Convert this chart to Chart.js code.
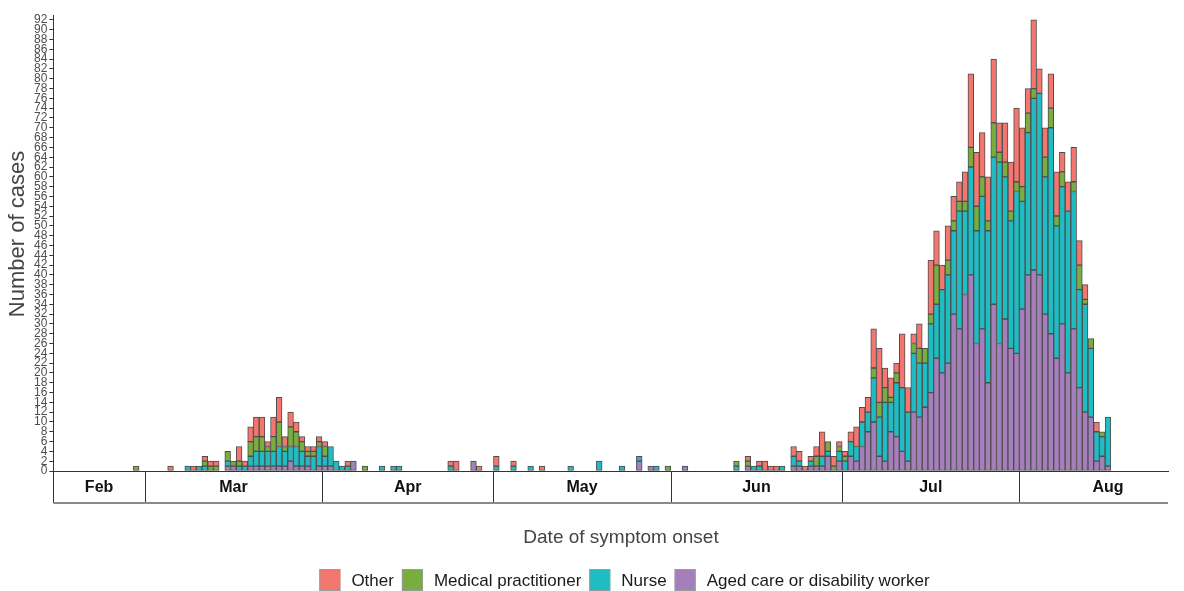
<!DOCTYPE html>
<html>
<head>
<meta charset="utf-8">
<script src="https://cdn.jsdelivr.net/npm/chart.js@4.4.1/dist/chart.umd.min.js"></script>
<style>
  html, body { margin: 0; padding: 0; background: #ffffff; }
  #wrap { width: 1184px; height: 591px; position: relative; }
</style>
</head>
<body>
<div id="wrap"><canvas id="c"></canvas></div>
<script>
// ---- categories: daily symptom-onset dates, 14 Feb to 26 Aug ----
const monthNames = ['Feb', 'Mar', 'Apr', 'May', 'Jun', 'Jul', 'Aug'];
const monthDays = [16, 31, 30, 31, 30, 31, 26];
const monthFirstDay = [14, 1, 1, 1, 1, 1, 1];
const monthLabelSpan = [16, 31, 30, 31, 30, 31, 31];

// ---- series values (one value per day, in order Feb..Aug) ----
const other = [
  0,0,0,0,0,0,0,0,0,0,0,0,0,0,0,0,
  0,0,0,0,1,0,0,0,1,0,1,1,1,0,0,0,3,1,3,4,4,1,4,5,2,3,2,1,1,1,1,
  1,0,0,0,1,0,0,0,0,0,0,0,0,0,0,0,0,0,0,0,0,0,1,2,0,0,0,1,0,0,
  2,0,0,1,0,0,0,0,1,0,0,0,0,0,0,0,0,0,0,0,0,0,0,0,0,0,0,0,0,0,0,
  0,0,0,0,0,0,0,0,0,0,0,0,0,1,0,1,2,1,1,0,0,2,2,1,1,2,5,0,2,1,
  1,2,4,3,3,8,11,4,4,2,11,5,2,5,0,11,7,5,7,5,4,6,15,11,9,9,13,6,8,10,15,
  12,5,14,5,6,7,9,4,6,7,5,3,0,2,0,0,0,0,0,0,0,0,0,0,0,0
];
const medical = [
  0,0,0,0,0,0,0,0,0,0,0,0,0,0,1,0,
  0,0,0,0,0,0,0,0,0,0,1,1,1,0,2,1,1,0,3,3,3,1,3,5,1,4,3,2,1,1,1,
  2,0,0,0,0,0,0,1,0,0,0,0,0,0,0,0,0,0,0,0,0,0,0,0,0,0,0,0,0,0,
  0,0,0,0,0,0,0,0,0,0,0,0,0,0,0,0,0,0,0,0,0,0,0,0,0,0,0,0,0,0,1,
  0,0,0,0,0,0,0,0,0,0,0,1,0,1,0,0,0,0,0,0,0,0,0,0,0,2,0,2,1,1,
  1,0,0,0,0,2,3,3,1,2,0,0,2,3,3,2,8,0,3,2,2,2,4,5,4,2,7,2,3,2,2,
  3,4,2,0,4,4,2,3,0,2,5,1,2,0,1,0,0,0,0,0,0,0,0,0,0,0
];
const nurse = [
  0,0,0,0,0,0,0,0,0,0,0,0,0,0,0,0,
  0,0,0,0,0,0,0,1,0,1,1,0,0,0,1,0,1,1,2,3,3,3,3,4,3,3,4,3,2,3,4,
  2,4,2,1,1,0,0,0,0,0,1,0,1,1,0,0,0,0,0,0,0,0,1,0,0,0,0,0,0,0,
  1,0,0,1,0,0,1,0,0,0,0,0,0,1,0,0,0,0,2,0,0,0,1,0,0,1,0,0,1,0,0,
  0,0,0,0,0,0,0,0,0,0,0,1,0,0,1,1,0,0,0,1,0,2,1,0,1,0,2,1,0,2,
  2,3,3,5,4,9,8,12,6,11,13,10,12,11,9,14,11,17,18,17,24,17,22,23,27,31,30,37,29,26,33,
  22,29,35,37,28,42,27,28,33,28,20,22,14,6,4,10,0,0,0,0,0,0,0,0,0,0
];
const aged = [
  0,0,0,0,0,0,0,0,0,0,0,0,0,0,0,0,
  0,0,0,0,0,0,0,0,0,0,0,0,0,0,1,1,0,0,1,1,1,1,1,1,1,2,1,1,1,0,1,
  1,1,0,0,0,2,0,0,0,0,0,0,0,0,0,0,0,0,0,0,0,0,0,0,0,0,2,0,0,0,
  0,0,0,0,0,0,0,0,0,0,0,0,0,0,0,0,0,0,0,0,0,0,0,0,0,2,0,1,0,0,0,
  0,0,1,0,0,0,0,0,0,0,0,0,0,1,0,0,0,0,0,0,0,1,1,0,1,1,1,3,0,2,
  0,3,2,5,8,10,3,2,8,7,4,2,12,11,13,16,23,20,22,32,29,36,40,26,29,18,34,26,31,25,24,
  33,40,41,40,32,28,23,30,20,29,17,12,11,2,3,1,0,0,0,0,0,0,0,0,0,0
];

// ---- y tick labels ----
const yTickMax = 92;
const yTickStep = 2;

// ---- texts ----
const xTitle = 'Date of symptom onset';
const yTitle = 'Number of cases';

// build day labels from the month table
const labels = [];
monthNames.forEach((m, k) => {
  for (let d = 0; d < monthDays[k]; d++) labels.push((monthFirstDay[k] + d) + ' ' + m);
});

const FONT = '"Liberation Sans", Arial, Helvetica, sans-serif';
const toBars = arr => arr.map(v => (v === 0 ? null : v));

const decorations = {
  id: 'decorations',
  afterDraw(chart) {
    const { ctx, chartArea: { left, right, bottom }, scales: { x } } = chart;
    const dayW = x.getPixelForValue(1) - x.getPixelForValue(0);
    const half = dayW / 2;
    const boxH = 32;
    const edges = [left];
    let n = 0;
    monthDays.forEach(d => {
      n += d;
      edges.push(n < labels.length ? x.getPixelForValue(n) - half : right);
    });
    ctx.save();
    // month strip
    ctx.strokeStyle = '#333333';
    ctx.lineWidth = 1;
    ctx.beginPath();
    for (let k = 0; k < edges.length - 1; k++) {
      const ex = Math.round(edges[k]) + 0.5;
      ctx.moveTo(ex, bottom);
      ctx.lineTo(ex, bottom + boxH);
    }
    ctx.stroke();
    ctx.strokeStyle = '#8a8a8a';
    ctx.lineWidth = 2;
    ctx.beginPath();
    ctx.moveTo(left, bottom + boxH);
    ctx.lineTo(right, bottom + boxH);
    ctx.stroke();
    ctx.fillStyle = '#111111';
    ctx.font = 'bold 16px ' + FONT;
    ctx.textAlign = 'center';
    ctx.textBaseline = 'middle';
    monthNames.forEach((nm, k) => {
      ctx.fillText(nm, edges[k] + monthLabelSpan[k] * dayW / 2, bottom + boxH / 2 + 1);
    });

    // x axis title
    ctx.fillStyle = '#444444';
    ctx.font = '19px ' + FONT;
    ctx.fillText(xTitle, 621, 538);

    // y axis title
    ctx.save();
    ctx.translate(18, 234);
    ctx.rotate(-Math.PI / 2);
    ctx.font = '22px ' + FONT;
    ctx.fillText(yTitle, 0, 0);
    ctx.restore();

    // legend
    const items = chart.data.datasets.slice().reverse();
    const bw = 21, bh = 22, gapText = 11, gapItem = 8;
    ctx.font = '17px ' + FONT;
    let total = 0;
    items.forEach((d, k) => {
      total += bw + gapText + ctx.measureText(d.label).width + (k < items.length - 1 ? gapItem : 0);
    });
    let lx = 624.5 - total / 2;
    const ly = 569;
    ctx.textAlign = 'left';
    items.forEach(d => {
      ctx.fillStyle = d.backgroundColor;
      ctx.fillRect(lx, ly, bw, bh);
      ctx.strokeStyle = '#9a9a9a';
      ctx.lineWidth = 1;
      ctx.strokeRect(lx + 0.5, ly + 0.5, bw - 1, bh - 1);
      ctx.fillStyle = '#1a1a1a';
      ctx.fillText(d.label, lx + bw + gapText, ly + bh / 2 + 1);
      lx += bw + gapText + ctx.measureText(d.label).width + gapItem;
    });
    ctx.restore();
  }
};

const border = '#4d4d4d';
new Chart(document.getElementById('c'), {
  type: 'bar',
  data: {
    labels: labels,
    datasets: [
      { label: 'Aged care or disability worker', data: toBars(aged), backgroundColor: '#a57fbc' },
      { label: 'Nurse', data: toBars(nurse), backgroundColor: '#1fbcc3' },
      { label: 'Medical practitioner', data: toBars(medical), backgroundColor: '#79ad3d' },
      { label: 'Other', data: toBars(other), backgroundColor: '#f3766f' }
    ].map(d => Object.assign(d, {
      borderColor: border, borderWidth: 1, borderSkipped: false,
      barPercentage: 1.0, categoryPercentage: 1.0
    }))
  },
  options: {
    responsive: true,
    maintainAspectRatio: false,
    animation: false,
    layout: { padding: { left: 32, right: 16, top: 15, bottom: 120 } },
    plugins: {
      tooltip: { enabled: false },
      legend: { display: false }
    },
    scales: {
      x: {
        stacked: true,
        offset: true,
        ticks: { display: false },
        grid: { display: false, drawTicks: false },
        border: { display: true, color: '#333333', width: 1 },
        title: { display: false }
      },
      y: {
        stacked: true,
        min: 0,
        max: 93,
        afterBuildTicks: (scale) => {
          const t = [];
          for (let v = 0; v <= yTickMax; v += yTickStep) t.push({ value: v });
          scale.ticks = t;
        },
        ticks: {
          autoSkip: false, padding: 2, color: '#4d4d4d',
          font: { family: FONT, size: 12 }
        },
        grid: { display: true, drawOnChartArea: false, drawTicks: true, tickLength: 4, color: '#333333' },
        border: { display: true, color: '#333333', width: 1 },
        title: { display: false }
      }
    }
  },
  plugins: [decorations]
});
</script>
</body>
</html>
